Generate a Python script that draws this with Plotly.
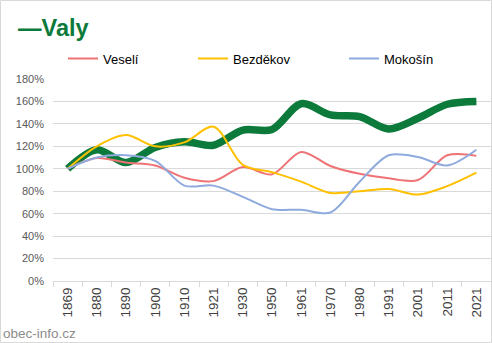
import plotly.graph_objects as go

years = ["1869", "1880", "1890", "1900", "1910", "1921", "1930", "1950",
         "1961", "1970", "1980", "1991", "2001", "2011", "2021"]
valy = [100, 117, 105.5, 119, 124, 121, 134.5, 135, 158, 148, 146.5, 135.5, 145, 157.5, 160]
veseli = [100, 109.5, 105.5, 103, 92, 89, 101.5, 95, 115, 102.5, 95.5, 91.5, 90, 112, 111.5]
bezdekov = [100, 120, 130, 120, 123.5, 137.5, 103.5, 97, 88.5, 78.5, 80, 82, 77, 84.5, 96.5]
mokosin = [100, 110, 112, 107, 85, 85, 75, 64, 63.5, 61, 88.5, 112, 110.5, 103, 117]
y_ticks = [0, 20, 40, 60, 80, 100, 120, 140, 160, 180]
y_tick_labels = [f"{v}%" for v in y_ticks]

W, H = 492, 343
L, R, T, B = 53, 1, 79, 62
pw, ph = W - L - R, H - T - B

FONT = "Liberation Sans"
GREEN = "#0b7a3a"


def px_x(p):
    return (p - L) / pw


def px_y(p):
    return (H - B - p) / ph


fig = go.Figure()
fig.add_trace(go.Scatter(x=years, y=valy, mode="lines", name="Valy", showlegend=False,
                         line=dict(color=GREEN, width=7.5, shape="spline", smoothing=0.9)))
fig.add_trace(go.Scatter(x=years, y=veseli, mode="lines", name="Veselí", legend="legend",
                         line=dict(color="#ef7275", width=2, shape="spline", smoothing=0.9)))
fig.add_trace(go.Scatter(x=years, y=bezdekov, mode="lines", name="Bezděkov", legend="legend2",
                         line=dict(color="#ffc000", width=2, shape="spline", smoothing=0.9)))
fig.add_trace(go.Scatter(x=years, y=mokosin, mode="lines", name="Mokošín", legend="legend3",
                         line=dict(color="#8faadc", width=2, shape="spline", smoothing=0.9)))

leg_common = dict(orientation="h", xanchor="left", yanchor="middle",
                  font=dict(size=13, color="#000000", family=FONT),
                  bgcolor="rgba(0,0,0,0)", itemwidth=30)

fig.update_layout(
    width=W, height=H,
    margin=dict(l=L, r=R, t=T, b=B, pad=0),
    paper_bgcolor="white", plot_bgcolor="white",
    font=dict(family=FONT, color="#595959", size=11),
    legend=dict(x=px_x(63), y=px_y(58.5), **leg_common),
    legend2=dict(x=px_x(193), y=px_y(58.5), **leg_common),
    legend3=dict(x=px_x(344), y=px_y(58.5), **leg_common),
    xaxis=dict(type="category", range=[-0.5, 14.5], tickangle=-90, showgrid=False,
               showline=True, linecolor="#d9d9d9", ticks="outside", tickson="boundaries",
               ticklen=5, tickcolor="#d9d9d9", tickfont=dict(size=13.5, color="#404040"),
               zeroline=False, fixedrange=True),
    yaxis=dict(range=[0, 180], tickvals=y_ticks, ticktext=y_tick_labels, showgrid=True,
               gridcolor="#d9d9d9", gridwidth=1, zeroline=False, showline=False,
               ticks="", tickfont=dict(size=11, color="#595959"), ticklabelstandoff=8,
               fixedrange=True),
    annotations=[
        dict(text="<b>—Valy</b>", xref="paper", yref="paper",
             x=px_x(16), y=px_y(13), xanchor="left", yanchor="top",
             showarrow=False, font=dict(size=23.5, color=GREEN, family=FONT)),
        dict(text="obec-info.cz", xref="paper", yref="paper",
             x=px_x(1), y=px_y(333), xanchor="left", yanchor="middle",
             showarrow=False, font=dict(size=13.5, color="#8c8c8c", family=FONT)),
    ],
    shapes=[
        dict(type="rect", xref="paper", yref="paper",
             x0=px_x(0.5), x1=px_x(W - 0.5),
             y0=px_y(0.5), y1=px_y(H - 0.5),
             line=dict(color="#d9d9d9", width=1), fillcolor="rgba(0,0,0,0)", layer="below"),
    ],
)

fig.write_html("out.html")
